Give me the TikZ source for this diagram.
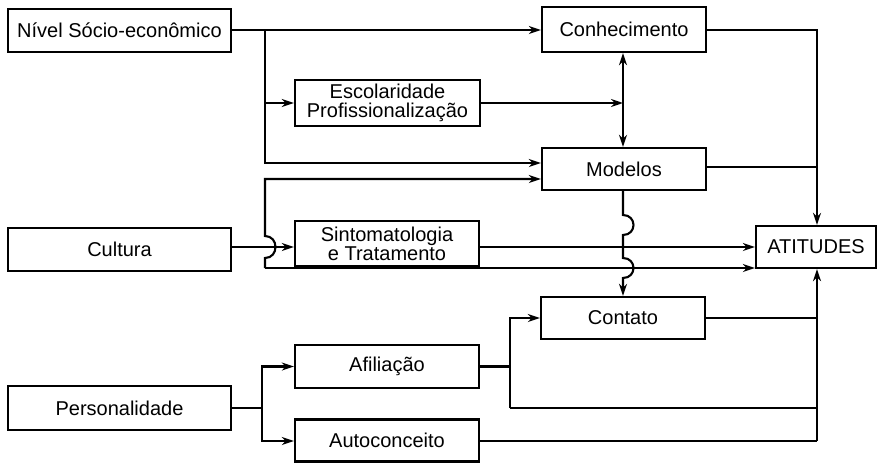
\documentclass[tikz,border=0pt]{standalone}
\usepackage{fontspec}
\setmainfont{Liberation Sans}
\usetikzlibrary{arrows.meta}
\begin{document}
\begin{tikzpicture}[x=1pt,y=-1pt,
  box/.style={draw,line width=2.3pt,inner sep=0pt,align=center,
    font=\fontsize{20}{19}\selectfont},
  conn/.style={line width=2.1pt},
  arr/.style={conn,-{Stealth[length=12pt,width=8pt]}},
  darr/.style={conn,{Stealth[length=12pt,width=8pt]}-{Stealth[length=12pt,width=8pt]}}]
\useasboundingbox (0,0) rectangle (881,463);
% boxes
\node[box,minimum width=223pt,minimum height=43pt] (nse) at (119.5,30.5) {Nível Sócio-econômico};
\node[box,minimum width=223pt,minimum height=43pt] (cult) at (119.5,249.5) {Cultura};
\node[box,minimum width=223pt,minimum height=44pt] (pers) at (119.5,408) {Personalidade};
\node[box,minimum width=185pt,minimum height=46pt] (esc) at (387.5,103) {Escolaridade\\Profissionalização};
\node[box,minimum width=184pt,minimum height=45pt] (sint) at (387,243.5) {Sintomatologia\\e Tratamento};
\node[box,minimum width=184pt,minimum height=43pt] (afil) at (387,366.5) {Afiliação};
\node[box,minimum width=184pt,minimum height=42pt] (auto) at (387,440.5) {Autoconceito};
\node[box,minimum width=164pt,minimum height=45pt] (conh) at (624,29.5) {Conhecimento};
\node[box,minimum width=164pt,minimum height=42pt] (mod) at (624,169) {Modelos};
\node[box,minimum width=164pt,minimum height=42pt] (cont) at (623,318) {Contato};
\node[box,minimum width=120pt,minimum height=42pt] (att) at (816,247) {ATITUDES};
% junction coordinates
\coordinate (j1) at (265,30);
\coordinate (j2) at (265,163);
\coordinate (jesc) at (265,103);
\coordinate (jcm) at (623,103);
\coordinate (r1) at (817,30);
\coordinate (r2) at (817,167);
\coordinate (c1) at (265,179);
\coordinate (c2) at (265,268);
\coordinate (rb) at (817,441);
\coordinate (rc) at (817,318);
\coordinate (ra) at (817,408);
\coordinate (a1) at (510,366.5);
\coordinate (a2) at (510,318);
\coordinate (a3) at (510,408);
\coordinate (p1) at (262,408);
\coordinate (p2) at (262,366.5);
\coordinate (p3) at (262,441);
% connectors
\draw[arr] (nse.east |- j1) -- (conh.west |- j1);
\draw[arr] (j1) -- (j2) -- (mod.west |- j2);
\draw[arr] (jesc) -- (esc.west |- jesc);
\draw[arr] (esc.east) -- (jcm);
\draw[darr] (conh.south -| jcm) -- (mod.north -| jcm);
\draw[arr] (conh.east |- r1) -- (r1) -- (att.north -| r1);
\draw[conn] (mod.east |- r2) -- (r2);
\draw[arr] (mod.south -| jcm) -- (623,215) .. controls (637,215) and (637,235) .. (623,235)
  -- (623,258) .. controls (637,258) and (637,278) .. (623,278) -- (cont.north -| jcm);
\draw[arr] (cult.east |- 0,247) -- (sint.west |- 0,247);
\draw[arr] (c2) -- (265,258) .. controls (279,258) and (279,236) .. (265,236)
  -- (c1) -- (mod.west |- c1);
\draw[arr] (c2) -- (att.west |- c2);
\draw[arr] (sint.east |- 0,247) -- (att.west |- 0,247);
\draw[conn] (cont.east |- rc) -- (rc);
\draw[arr] (rb) -- (att.south -| rb);
\draw[conn] (afil.east |- a1) -- (a1);
\draw[arr] (a3) -- (a2) -- (cont.west |- a2);
\draw[conn] (a3) -- (ra);
\draw[conn] (auto.east |- rb) -- (rb);
\draw[conn] (pers.east |- p1) -- (p1);
\draw[arr] (p1) -- (p2) -- (afil.west |- p2);
\draw[arr] (p1) -- (p3) -- (auto.west |- p3);
\end{tikzpicture}
\end{document}
